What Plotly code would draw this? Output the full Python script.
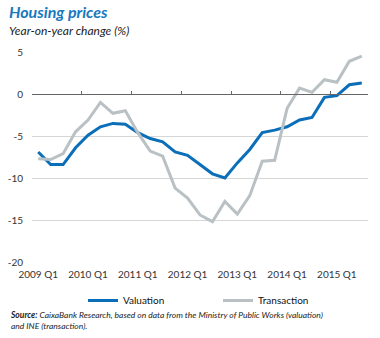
import plotly.graph_objects as go

quarters = [f"{y} Q{q}" for y in range(2009, 2016) for q in range(1, 5)][:27]
valuation = [-6.9, -8.4, -8.4, -6.4, -4.9, -3.9, -3.5, -3.6, -4.6, -5.3, -5.7, -6.9,
             -7.3, -8.4, -9.5, -10.0, -8.2, -6.6, -4.6, -4.3, -3.9, -3.1, -2.8, -0.4,
             -0.2, 1.1, 1.3]
transaction = [-7.7, -7.8, -7.1, -4.5, -3.1, -1.0, -2.3, -2.0, -4.6, -6.8, -7.4, -11.2,
               -12.4, -14.4, -15.2, -12.8, -14.3, -12.1, -8.0, -7.9, -1.7, 0.7, 0.2, 1.7,
               1.4, 3.9, 4.5]
year_labels = ["2009 Q1", "2010 Q1", "2011 Q1", "2012 Q1", "2013 Q1", "2014 Q1", "2015 Q1"]
y_ticks = [5, 0, -5, -10, -15, -20]
y_tick_text = ["5", "0", "-5", "-10", "-15", "-20"]

BLUE = "#0a6fb8"
GRAY = "#b9c1c4"
FONT = "Lato"

W, H = 380, 338
ML, MR, MT, MB = 32, 12, 52, 76
plot_w = W - ML - MR
plot_h = H - MT - MB


def px_x(x):
    return (x - ML) / plot_w


def px_y(y_from_top):
    return (H - y_from_top - MB) / plot_h


xs = list(range(len(quarters)))
label_pos = [quarters.index(l) for l in year_labels]
boundary_pos = [p - 0.5 for p in label_pos]

y_min, y_max = -20, 5

fig = go.Figure()
fig.add_trace(go.Scatter(x=xs, y=valuation, mode="lines", name="Valuation",
                         line=dict(color=BLUE, width=3), text=quarters))
fig.add_trace(go.Scatter(x=xs, y=transaction, mode="lines", name="Transaction",
                         line=dict(color=GRAY, width=3), text=quarters))
# invisible helper to show the zero axis with ticks
fig.add_trace(go.Scatter(x=xs, y=valuation, mode="lines", xaxis="x2", showlegend=False,
                         hoverinfo="skip", line=dict(width=0), opacity=0))

fig.update_layout(
    width=W, height=H,
    margin=dict(l=ML, r=MR, t=MT, b=MB, autoexpand=False),
    paper_bgcolor="white", plot_bgcolor="white",
    font=dict(family=FONT, size=10, color="#333333"),
    showlegend=True,
    legend=dict(orientation="h", x=px_x(83), xanchor="left", y=px_y(286), yanchor="top",
                font=dict(family=FONT, size=10, color="#111111"),
                entrywidth=90, entrywidthmode="pixels", traceorder="normal"),
    xaxis=dict(range=[-0.5, len(quarters) - 0.5], tickvals=label_pos, ticktext=year_labels,
               showgrid=False, zeroline=False, showline=False, ticks="",
               ticklabelstandoff=5,
               tickfont=dict(family=FONT, size=10, color="#333333")),
    xaxis2=dict(range=[-0.5, len(quarters) - 0.5], overlaying="x", anchor="free",
                position=(0 - y_min) / (y_max - y_min),
                tickvals=boundary_pos, showticklabels=False, ticks="inside", ticklen=3,
                tickcolor="#666666", showline=True, linecolor="#666666", linewidth=1,
                showgrid=False, zeroline=False),
    yaxis=dict(range=[y_min, y_max], tickvals=y_ticks, ticktext=y_tick_text,
               showgrid=True, gridcolor="#d6d6d6",
               gridwidth=1, zeroline=False, showline=False, ticks="",
               ticklabelstandoff=8,
               tickfont=dict(family=FONT, size=10, color="#333333")),
    annotations=[
        dict(text="<b><i>Housing prices</i></b>", x=px_x(7), y=px_y(11), xref="paper", yref="paper",
             showarrow=False, xanchor="left", yanchor="middle",
             font=dict(family=FONT, size=16, color="#1778c0")),
        dict(text="<i>Year-on-year change (%)</i>", x=px_x(7), y=px_y(31), xref="paper", yref="paper",
             showarrow=False, xanchor="left", yanchor="middle",
             font=dict(family=FONT, size=12, color="#222222")),
        dict(text="<b><i>Source:</i></b><i> CaixaBank Research, based on data from the Ministry of Public Works (valuation)</i><br><i>and INE (transaction).</i>",
             x=px_x(8), y=px_y(308), xref="paper", yref="paper", showarrow=False,
             xanchor="left", yanchor="top", align="left",
             font=dict(family=FONT, size=8.5, color="#222222")),
    ],
)

fig.write_html("out.html")
